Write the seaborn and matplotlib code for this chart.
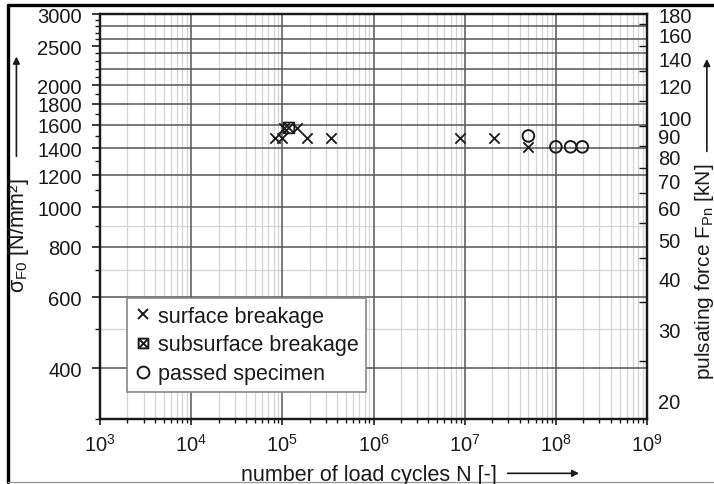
import numpy as np
import pandas as pd
import matplotlib
matplotlib.use("Agg")
import matplotlib.pyplot as plt
from matplotlib.path import Path
from matplotlib.lines import Line2D
from matplotlib.patches import FancyArrowPatch
from matplotlib.ticker import FixedLocator, FixedFormatter, NullFormatter
import seaborn as sns

# ---- data -------------------------------------------------------------
surface_n = [8.3e4, 9.8e4, 1.03e5, 1.45e5, 1.85e5, 3.4e5, 8.9e6, 2.1e7, 5.0e7]
surface_s = [1480, 1480, 1570, 1570, 1480, 1480, 1480, 1480, 1410]
subsurface_n = [1.18e5]
subsurface_s = [1570]
passed_n = [5.0e7, 1.0e8, 1.45e8, 1.95e8]
passed_s = [1500, 1410, 1410, 1410]

cycle_exponents = [3, 4, 5, 6, 7, 8, 9]
stress_ticks = [400, 600, 800, 1000, 1200, 1400, 1600, 1800, 2000, 2500, 3000]
stress_minor = [v for v in range(300, 3001, 100) if v not in stress_ticks]
force_ticks = [20, 30, 40, 50, 60, 70, 80, 90, 100, 120, 140, 160, 180]
force_minor = [25, 35, 45, 55, 65, 75, 85, 95, 110, 130, 150, 170]
grid_dark = [400, 600, 800, 1000, 1200, 1400, 1600, 1800, 2000, 2200, 2400, 2600, 2800]
grid_light = [500, 700, 900]
force_per_stress = 180 / 3000

labels = ["surface breakage", "subsurface breakage", "passed specimen"]

# ---- style ------------------------------------------------------------
sns.set_style("ticks")
plt.rcParams["font.family"] = ["Liberation Sans", "DejaVu Sans"]
plt.rcParams["mathtext.fontset"] = "custom"
plt.rcParams["mathtext.rm"] = "Liberation Sans"
plt.rcParams["mathtext.it"] = "Liberation Sans:italic"
plt.rcParams["mathtext.bf"] = "Liberation Sans:bold"
plt.rcParams["mathtext.default"] = "regular"

ink = "#1a1a1a"
label_size = 15.5

# square with both diagonals for subsurface breakage
box_x = Path(
    [(-1, -1), (1, -1), (1, 1), (-1, 1), (-1, -1), (-1, -1), (1, 1), (-1, 1), (1, -1)],
    [Path.MOVETO, Path.LINETO, Path.LINETO, Path.LINETO, Path.CLOSEPOLY,
     Path.MOVETO, Path.LINETO, Path.MOVETO, Path.LINETO],
)

fig = plt.figure(figsize=(7.14, 4.85), dpi=100)
ax = fig.add_axes([0.1401, 0.134, 0.7661, 0.835])

sns.scatterplot(x=surface_n, y=surface_s, marker="x", s=55, color=ink,
                linewidth=1.3, ax=ax, zorder=5, legend=False)
sns.scatterplot(x=subsurface_n, y=subsurface_s, marker=box_x, s=60,
                facecolor="none", edgecolor=ink, linewidth=1.3, ax=ax,
                zorder=5, legend=False)
sns.scatterplot(x=passed_n, y=passed_s, marker="o", s=70, facecolor="none",
                edgecolor=ink, linewidth=1.4, ax=ax, zorder=5, legend=False)

ax.set_xscale("log")
ax.set_yscale("log")
ax.set_xlim(1e3, 1e9)
ax.set_ylim(300, 3000)

decades = [10.0 ** e for e in cycle_exponents]
minor_cycles = [m * d for d in decades[:-1] for m in range(2, 10)]
ax.xaxis.set_major_locator(FixedLocator(decades))
ax.xaxis.set_major_formatter(FixedFormatter([f"$10^{{{e}}}$" for e in cycle_exponents]))
ax.xaxis.set_minor_locator(FixedLocator(minor_cycles))
ax.xaxis.set_minor_formatter(NullFormatter())
ax.yaxis.set_major_locator(FixedLocator(stress_ticks))
ax.yaxis.set_major_formatter(FixedFormatter([str(v) for v in stress_ticks]))
ax.yaxis.set_minor_locator(FixedLocator(stress_minor))
ax.yaxis.set_minor_formatter(NullFormatter())

ax.tick_params(axis="y", which="major", direction="out", length=6, width=1.2,
               pad=7, labelsize=14.5, color=ink, labelcolor=ink)
ax.tick_params(axis="y", which="minor", direction="out", length=3.5, width=1.0, color=ink)
ax.tick_params(axis="x", which="major", direction="out", length=4, width=1.2,
               pad=6, labelsize=14.5, color=ink, labelcolor=ink)
ax.tick_params(axis="x", which="minor", direction="out", length=3, width=1.0, color=ink)

# grid
ax.grid(which="major", axis="x", color="#555555", lw=1.1, zorder=1)
ax.grid(which="minor", axis="x", color="#d4d4d4", lw=0.9, zorder=0.5)
for v in grid_dark:
    ax.axhline(v, color="#555555", lw=1.1, zorder=1)
for v in grid_light:
    ax.axhline(v, color="#d4d4d4", lw=0.9, zorder=0.5)
ax.set_axisbelow(True)

for sp in ax.spines.values():
    sp.set_linewidth(1.6)
    sp.set_color(ink)

# secondary force axis
ax2 = ax.twinx()
ax2.set_yscale("log")
ax2.set_ylim(300 * force_per_stress, 3000 * force_per_stress)
ax2.yaxis.set_major_locator(FixedLocator(force_ticks))
ax2.yaxis.set_major_formatter(FixedFormatter([str(v) for v in force_ticks]))
ax2.yaxis.set_minor_locator(FixedLocator(force_minor))
ax2.yaxis.set_minor_formatter(NullFormatter())
ax2.tick_params(axis="y", which="major", length=0, pad=8, labelsize=14.5, labelcolor=ink)
ax2.tick_params(axis="y", which="minor", direction="in", length=6, width=1.0, color=ink)
for sp in ax2.spines.values():
    sp.set_linewidth(1.6)
    sp.set_color(ink)

# legend
handles = [
    Line2D([], [], marker="x", ls="none", color=ink, ms=7.5, mew=1.4),
    Line2D([], [], marker=box_x, ls="none", color=ink, mfc="none", ms=7, mew=1.4),
    Line2D([], [], marker="o", ls="none", color=ink, mfc="none", ms=8.5, mew=1.4),
]
leg = ax2.legend(handles, labels, loc="upper left", bbox_to_anchor=(0.049, 0.299),
                 borderaxespad=0, fontsize=label_size, frameon=True, fancybox=False,
                 framealpha=1, edgecolor="#888888", borderpad=0.36,
                 handletextpad=0.28, labelspacing=0.36, handlelength=0.8)
leg.get_frame().set_linewidth(1.2)
for t in leg.get_texts():
    t.set_color(ink)

# axis titles with direction arrows
fig.text(0.026, 0.515, "σ$_{F0}$ [N/mm²]", rotation=90, ha="center", va="center",
         fontsize=label_size, color=ink)
fig.add_artist(FancyArrowPatch((0.023, 0.67), (0.023, 0.887), transform=fig.transFigure,
                               arrowstyle="-|>", mutation_scale=10, color=ink, lw=1.2))
fig.text(0.986, 0.44, "pulsating force F$_{Pn}$ [kN]", rotation=90, ha="center",
         va="center", fontsize=15, color=ink)
fig.add_artist(FancyArrowPatch((0.990, 0.68), (0.990, 0.882), transform=fig.transFigure,
                               arrowstyle="-|>", mutation_scale=10, color=ink, lw=1.2))
fig.text(0.3375, 0.0186, "number of load cycles N [-]", ha="left", va="center",
         fontsize=label_size, color=ink)
fig.add_artist(FancyArrowPatch((0.707, 0.022), (0.815, 0.022), transform=fig.transFigure,
                               arrowstyle="-|>", mutation_scale=10, color=ink, lw=1.2))

# outer frame
fig.add_artist(Line2D([0.0112, 0.0112], [0.004, 0.9876], transform=fig.transFigure,
                      color="black", lw=2.4))
fig.add_artist(Line2D([0.0112, 1.0], [0.9876, 0.9876], transform=fig.transFigure,
                      color="black", lw=2.4))
fig.add_artist(Line2D([0.0112, 1.0], [0.004, 0.004], transform=fig.transFigure,
                      color="#999999", lw=1.0))

fig.savefig("out.png", dpi=100)
